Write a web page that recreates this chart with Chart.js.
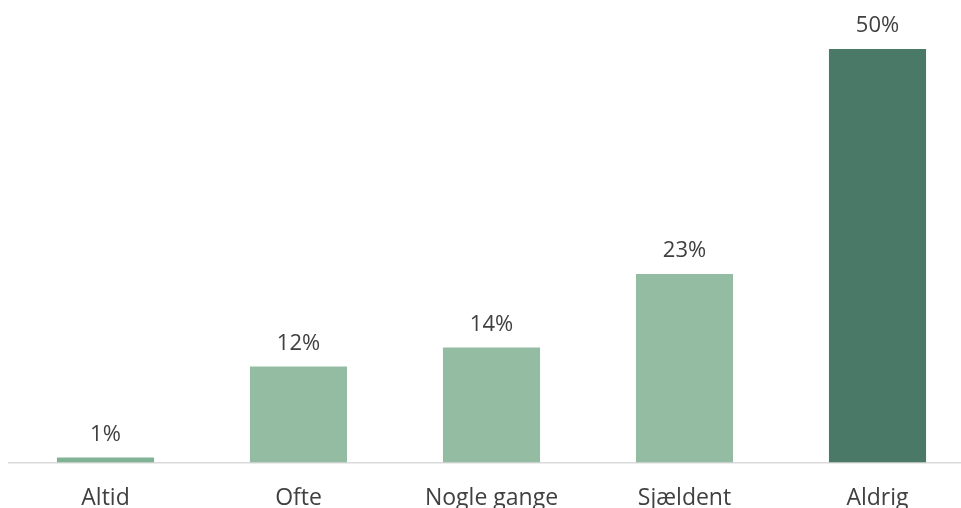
<!DOCTYPE html>
<html>
<head>
<meta charset="utf-8">
<script src="https://cdn.jsdelivr.net/npm/chart.js@4"></script>
<style>
  html, body { margin: 0; padding: 0; overflow: hidden; background: #fff; }
  #wrap { width: 976px; height: 508px; }
</style>
</head>
<body>
<div id="wrap"><canvas id="grafico"></canvas></div>
<script>
const kategorier = ['Altid', 'Ofte', 'Nogle gange', 'Sjældent', 'Aldrig'];
const andele = [0.6, 11.6, 13.9, 22.8, 50];
const etiketter = ['1%', '12%', '14%', '23%', '50%'];
const farver = ['#80b396', '#93bca2', '#93bca2', '#93bca2', '#4a7a67'];

const vaerdiEtiketter = {
  id: 'vaerdiEtiketter',
  afterDatasetsDraw: (chart) => {
    const { ctx } = chart;
    const meta = chart.getDatasetMeta(0);
    ctx.save();
    ctx.font = '22px "Open Sans"';
    ctx.fillStyle = '#404040';
    ctx.textAlign = 'center';
    ctx.textBaseline = 'alphabetic';
    meta.data.forEach((bar, i) => {
      ctx.fillText(etiketter[i], bar.x, bar.y - 17);
    });
    ctx.restore();
  }
};

new Chart(document.getElementById('grafico'), {
  type: 'bar',
  data: {
    labels: kategorier,
    datasets: [{
      data: andele,
      backgroundColor: farver,
      categoryPercentage: 1,
      barPercentage: 0.503
    }]
  },
  options: {
    responsive: true,
    maintainAspectRatio: false,
    animation: false,
    layout: { padding: { left: 9, right: 2, top: 49, bottom: 0 } },
    plugins: { legend: { display: false }, tooltip: { enabled: false } },
    scales: {
      y: { display: false, min: 0, max: 50 },
      x: {
        grid: { display: false, drawTicks: false },
        border: { color: '#d9d9d9', width: 1.5 },
        ticks: { color: '#404040', padding: 22, font: { family: 'Open Sans', size: 23 } },
        afterFit: (scale) => { scale.height = 45.5; }
      }
    }
  },
  plugins: [vaerdiEtiketter]
});
</script>
</body>
</html>
